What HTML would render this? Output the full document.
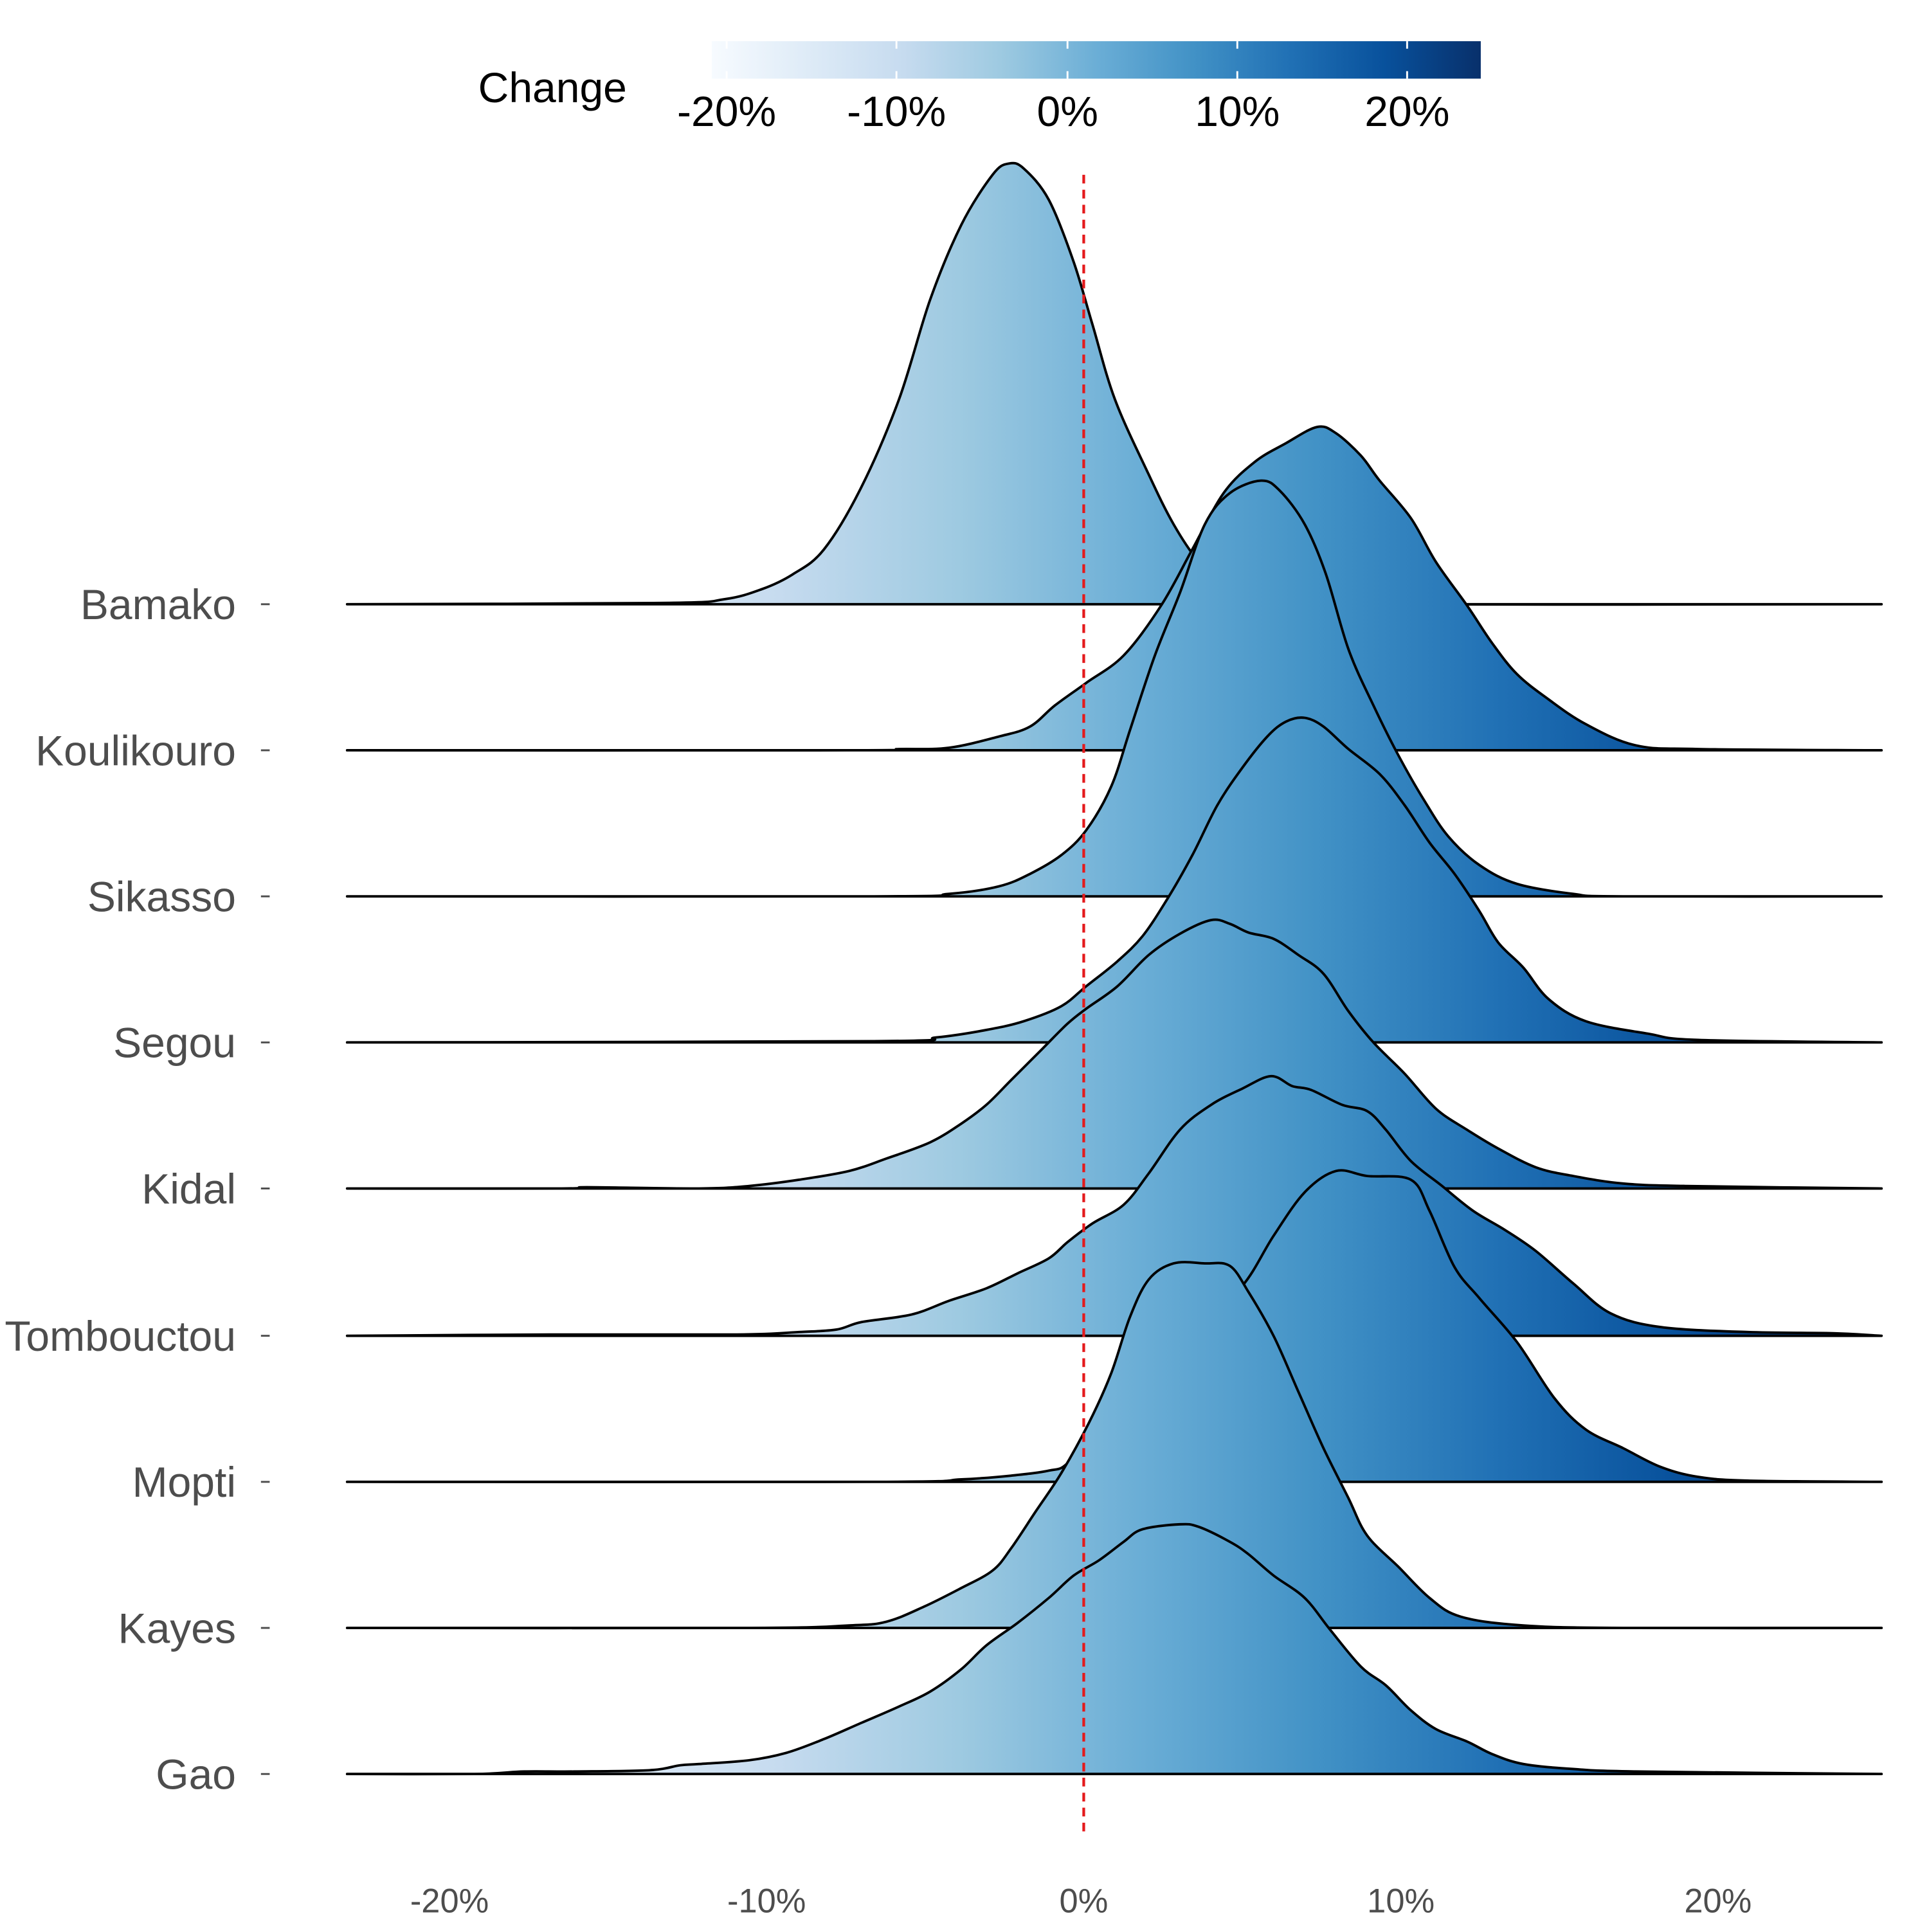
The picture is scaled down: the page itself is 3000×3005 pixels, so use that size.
<!DOCTYPE html>
<html><head><meta charset="utf-8"><style>html,body{margin:0;padding:0;background:#fff}</style></head>
<body>
<svg id="s" width="3000" height="3000" viewBox="0 0 1545 1545" xmlns="http://www.w3.org/2000/svg" font-family="Liberation Sans, sans-serif">
<defs>
<linearGradient id="g" gradientUnits="userSpaceOnUse" x1="337" y1="0" x2="1485" y2="0">
<stop offset="0" stop-color="#f7fbff"/><stop offset="0.125" stop-color="#deebf7"/><stop offset="0.25" stop-color="#c6dbef"/><stop offset="0.375" stop-color="#9ecae1"/><stop offset="0.5" stop-color="#6baed6"/><stop offset="0.625" stop-color="#4292c6"/><stop offset="0.75" stop-color="#2171b5"/><stop offset="0.875" stop-color="#08519c"/><stop offset="1" stop-color="#08306b"/>
</linearGradient>
<linearGradient id="cb" x1="0" y1="0" x2="1" y2="0">
<stop offset="0" stop-color="#f7fbff"/><stop offset="0.125" stop-color="#deebf7"/><stop offset="0.25" stop-color="#c6dbef"/><stop offset="0.375" stop-color="#9ecae1"/><stop offset="0.5" stop-color="#6baed6"/><stop offset="0.625" stop-color="#4292c6"/><stop offset="0.75" stop-color="#2171b5"/><stop offset="0.875" stop-color="#08519c"/><stop offset="1" stop-color="#08306b"/>
</linearGradient>
</defs>
<g id="ridges" fill="url(#g)" stroke="#000" stroke-width="2" stroke-linejoin="round">
<path d="M278,484 L530,483 L580,480 L610,472 L635,460 L660,440 L690,390 L720,320 L745,240 L770,180 L795,140 L808,131 L820,135 L840,160 L860,210 L875,260 L893,320 L920,380 L940,420 L960,450 L980,470 L1000,480 L1050,484 L1507,484 Z"/>
<path d="M278,601 L680,601 L720,600 L760,599 L800,590 L825,582 L845,565 L870,547 L900,525 L930,485 L955,440 L980,395 L1005,370 L1030,355 L1055,342 L1070,347 L1090,365 L1105,385 L1130,415 L1150,450 L1175,485 L1195,515 L1215,540 L1240,560 L1270,580 L1310,597 L1360,600 L1507,601 Z"/>
<path d="M278,718 L700,718 L760,716 L800,710 L825,700 L850,685 L870,665 L890,630 L905,585 L925,525 L945,475 L965,420 L985,395 L1010,385 L1025,393 L1045,420 L1062,460 L1080,520 L1100,565 L1120,605 L1140,640 L1160,670 L1185,693 L1215,708 L1260,716 L1300,718 L1507,718 Z"/>
<path d="M278,835 L700,834 L750,831 L790,825 L820,818 L850,806 L870,790 L895,770 L915,750 L935,720 L955,685 L975,645 L995,615 L1015,590 L1030,578 L1045,575 L1060,582 L1080,600 L1105,620 L1125,645 L1145,675 L1165,700 L1185,730 L1200,755 L1220,775 L1240,800 L1270,818 L1320,828 L1360,833 L1507,835 Z"/>
<path d="M278,952 L450,952 L470,951 L560,952 L600,950 L640,945 L680,938 L710,928 L745,915 L770,900 L790,885 L810,865 L835,840 L855,820 L870,808 L895,790 L920,765 L945,748 L970,737 L985,740 L1000,747 L1020,752 L1040,765 L1060,780 L1080,810 L1100,835 L1125,860 L1150,888 L1175,905 L1200,920 L1230,935 L1260,942 L1300,948 L1350,950 L1507,952 Z"/>
<path d="M278,1070 L440,1069 L590,1069 L640,1067 L670,1065 L690,1059 L730,1053 L760,1042 L790,1032 L815,1020 L840,1008 L855,995 L875,980 L900,965 L920,940 L945,905 L970,885 L995,872 L1018,862 L1035,870 L1050,873 L1075,885 L1095,890 L1110,905 L1130,930 L1155,950 L1180,970 L1205,985 L1230,1002 L1260,1028 L1290,1052 L1330,1063 L1400,1067 L1470,1068 L1507,1070 Z"/>
<path d="M278,1187 L700,1187 L770,1185 L810,1182 L840,1178 L855,1172 L880,1140 L920,1090 L960,1060 L995,1030 L1020,990 L1045,955 L1070,938 L1095,942 L1130,945 L1145,970 L1165,1015 L1185,1040 L1215,1075 L1245,1120 L1270,1145 L1300,1160 L1330,1175 L1360,1183 L1400,1186 L1507,1187 Z"/>
<path d="M278,1304 L600,1304 L680,1302 L710,1299 L740,1287 L770,1272 L795,1258 L810,1240 L830,1210 L850,1180 L872,1140 L890,1100 L905,1055 L920,1025 L940,1012 L965,1012 L985,1014 L1000,1035 L1020,1070 L1040,1115 L1060,1160 L1080,1200 L1095,1230 L1120,1255 L1145,1280 L1170,1295 L1220,1302 L1300,1304 L1507,1304 Z"/>
<path d="M278,1421 L380,1421 L420,1419 L460,1419 L520,1418 L545,1414 L560,1413 L600,1410 L630,1404 L660,1393 L690,1380 L720,1367 L745,1355 L770,1337 L790,1318 L815,1300 L840,1280 L860,1262 L880,1250 L900,1235 L915,1225 L945,1221 L960,1223 L985,1235 L1000,1245 L1020,1262 L1045,1280 L1065,1305 L1090,1335 L1110,1350 L1130,1370 L1150,1385 L1175,1395 L1195,1405 L1220,1413 L1260,1417 L1310,1419 L1507,1421 Z"/>
</g>
<line x1="868" y1="140" x2="868" y2="1470" stroke="#e41a1c" stroke-width="2.2" stroke-dasharray="7,5"/>
<g font-size="34" fill="#4d4d4d" text-anchor="end">
<text x="189" y="496">Bamako</text><text x="189" y="613">Koulikouro</text><text x="189" y="730">Sikasso</text><text x="189" y="847">Segou</text><text x="189" y="964">Kidal</text><text x="189" y="1082">Tombouctou</text><text x="189" y="1199">Mopti</text><text x="189" y="1316">Kayes</text><text x="189" y="1433">Gao</text>
</g>
<g stroke="#4d4d4d" stroke-width="1.5">
<line x1="209" y1="484" x2="216" y2="484"/><line x1="209" y1="601" x2="216" y2="601"/><line x1="209" y1="718" x2="216" y2="718"/><line x1="209" y1="835" x2="216" y2="835"/><line x1="209" y1="952" x2="216" y2="952"/><line x1="209" y1="1070" x2="216" y2="1070"/><line x1="209" y1="1187" x2="216" y2="1187"/><line x1="209" y1="1304" x2="216" y2="1304"/><line x1="209" y1="1421" x2="216" y2="1421"/>
</g>
<g font-size="27" fill="#4d4d4d" text-anchor="middle">
<text x="360" y="1532">-20%</text><text x="614" y="1532">-10%</text><text x="868" y="1532">0%</text><text x="1122" y="1532">10%</text><text x="1376" y="1532">20%</text>
</g>
<text x="383" y="82" font-size="34" fill="#000">Change</text>
<rect x="570" y="33" width="616" height="30" fill="url(#cb)"/>
<g stroke="#fff" stroke-width="1.5">
<line x1="582" y1="33" x2="582" y2="39"/><line x1="582" y1="57" x2="582" y2="63"/>
<line x1="718" y1="33" x2="718" y2="39"/><line x1="718" y1="57" x2="718" y2="63"/>
<line x1="855" y1="33" x2="855" y2="39"/><line x1="855" y1="57" x2="855" y2="63"/>
<line x1="991" y1="33" x2="991" y2="39"/><line x1="991" y1="57" x2="991" y2="63"/>
<line x1="1127" y1="33" x2="1127" y2="39"/><line x1="1127" y1="57" x2="1127" y2="63"/>
</g>
<g font-size="34" fill="#000" text-anchor="middle">
<text x="582" y="101">-20%</text><text x="718" y="101">-10%</text><text x="855" y="101">0%</text><text x="991" y="101">10%</text><text x="1127" y="101">20%</text>
</g>
</svg>
<script>
document.querySelectorAll('#ridges path').forEach(function(p){
  var d=p.getAttribute('d').replace(/[MLZ]/g,' ').trim().split(/\s+/);
  var pts=d.map(function(s){var a=s.split(',');return [+a[0],+a[1]];});
  var out='M'+pts[0][0]+','+pts[0][1];
  for(var i=0;i<pts.length-1;i++){
    var p0=pts[Math.max(0,i-1)],p1=pts[i],p2=pts[i+1],p3=pts[Math.min(pts.length-1,i+2)];
    var c1x=p1[0]+(p2[0]-p0[0])/6,c1y=p1[1]+(p2[1]-p0[1])/6;
    var c2x=p2[0]-(p3[0]-p1[0])/6,c2y=p2[1]-(p3[1]-p1[1])/6;
    out+=' C'+c1x.toFixed(1)+','+c1y.toFixed(1)+' '+c2x.toFixed(1)+','+c2y.toFixed(1)+' '+p2[0]+','+p2[1];
  }
  p.setAttribute('d',out+' Z');
});
</script>
</body></html>
